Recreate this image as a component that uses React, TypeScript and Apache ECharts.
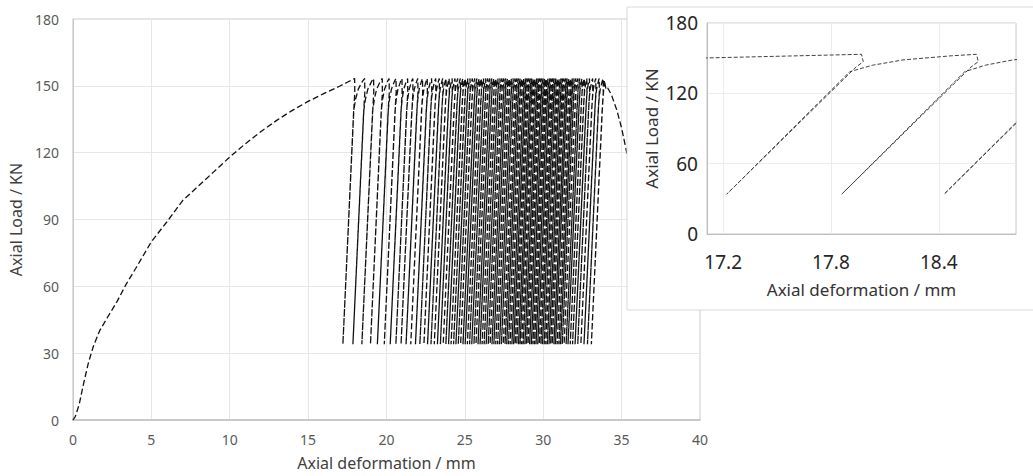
import React, { useEffect, useRef } from "react";
import * as echarts from "echarts";

// Monotonic (virgin) loading curve up to the first cycle
const envelopeX = [0, 0.15, 0.4, 0.7, 1.0, 1.3, 1.7, 2.2, 2.8, 3.4, 4.0, 5.0, 6.0, 7.0, 8.0, 9.0, 10.0, 11.0, 12.0, 13.0, 14.0, 15.0, 16.0, 17.0, 17.5];
const envelopeLoad = [0, 1.5, 7, 17, 26, 33, 40, 46, 53, 61, 68, 80, 89, 98.5, 105, 111.5, 118, 124, 129.5, 134.5, 139, 143, 146.5, 149.8, 151.6];

// Unloading valley positions (mm) of each cycle
const valleyX = [
  17.22, 17.86, 18.43, 18.98, 19.42, 19.86, 20.24, 20.6, 20.93, 21.25, 21.55, 21.85, 22.13, 22.39,
  22.62, 22.84, 23.05, 23.25, 23.44, 23.62, 23.79, 23.96, 24.12, 24.28, 24.43, 24.58, 24.73, 24.88,
  25.02, 25.16, 25.3, 25.44, 25.58, 25.71, 25.84, 25.97, 26.1, 26.23, 26.36, 26.49, 26.61, 26.73,
  26.85, 26.97, 27.09, 27.21, 27.33, 27.45, 27.56, 27.67, 27.78, 27.89, 28.0, 28.11, 28.21, 28.31,
  28.42, 28.52, 28.62, 28.72, 28.83, 28.93, 29.03, 29.13, 29.24, 29.34, 29.44, 29.54, 29.65, 29.75,
  29.85, 29.95, 30.06, 30.16, 30.26, 30.37, 30.47, 30.57, 30.68, 30.78, 30.89, 31.0, 31.1, 31.21,
  31.33, 31.46, 31.58, 31.72, 31.87, 32.03, 32.2, 32.4, 32.6, 32.82, 33.07,
];

// Cycle shape
const peakLoad = 153.3;
const valleyLoad = 34;
const unloadWidth = 0.75; // peak x minus valley x
const unloadCurl = [[0.01, 147], [-0.03, 142.5]]; // offsets from the peak
const reloadKnee = [-0.065, 138.5]; // offset from the cycle's own peak
const reloadBend = [[0.18, 144], [0.42, 148.5], [0.8, 152]]; // fraction of knee->next peak, load

// Post-peak softening after the last cycle
const tailX = [33.9, 34.0, 34.1, 34.35, 34.7, 35.0, 35.3, 35.7, 36.1];
const tailLoad = [152.5, 148.5, 149.2, 146, 139, 131, 121, 105, 90];

// Axis ticks
const mainXTicks = { min: 0, max: 40, interval: 5 };
const mainYTicks = { min: 0, max: 180, interval: 30 };
const insetXLabels = [17.2, 17.8, 18.4];
const insetXRange = [17.11, 18.83];
const insetYTicks = { min: 0, max: 180, interval: 60 };

function buildCurve(): number[][] {
  const pts: number[][] = [];
  envelopeX.forEach((x, i) => pts.push([x, envelopeLoad[i]]));
  for (let i = 0; i < valleyX.length; i++) {
    const v = valleyX[i];
    const P = v + unloadWidth;
    pts.push([P, peakLoad]);
    unloadCurl.forEach(([dx, y]) => pts.push([P + dx, y]));
    pts.push([v, valleyLoad]);
    const knee = P + reloadKnee[0];
    pts.push([knee, reloadKnee[1]]);
    if (i < valleyX.length - 1) {
      const Pn = valleyX[i + 1] + unloadWidth;
      const d = Pn - knee;
      reloadBend.forEach(([f, y]) => pts.push([knee + f * d, y]));
    }
  }
  tailX.forEach((x, i) => pts.push([x, tailLoad[i]]));
  return pts;
}

const FONT = "Noto Sans";

export default function App() {
  const ref = useRef<HTMLDivElement>(null);
  useEffect(() => {
    if (!ref.current) return;
    const chart = echarts.init(ref.current, undefined, { renderer: "svg" });
    const data = buildCurve();
    const option: any = {
      animation: false,
      backgroundColor: "#fff",
      textStyle: { fontFamily: FONT },
      grid: [
        { left: 69, right: 333, top: 19, bottom: 53, show: true, borderColor: "#c8c8c8", borderWidth: 1, z: 0 },
        { left: 707, right: 17, top: 23, bottom: 242, show: true, borderColor: "#c8c8c8", borderWidth: 1, z: 11 },
      ],
      graphic: [
        {
          type: "rect",
          z: 10,
          shape: { x: 627, y: 7, width: 420, height: 303 },
          style: { fill: "#fff", stroke: "#d9d9d9", lineWidth: 1 },
        },
      ],
      xAxis: [
        {
          type: "value",
          gridIndex: 0,
          ...mainXTicks,
          name: "Axial deformation / mm",
          nameLocation: "middle",
          nameGap: 35,
          nameTextStyle: { fontSize: 16, color: "#404040", fontFamily: FONT },
          axisLine: { show: true, lineStyle: { color: "#bfbfbf", width: 1.5 } },
          axisTick: { show: false },
          axisLabel: { fontSize: 14, color: "#595959", margin: 12, fontFamily: FONT },
          splitLine: { show: true, lineStyle: { color: "#e6e6e6", width: 1 } },
        },
        {
          type: "value",
          gridIndex: 1,
          z: 12,
          min: insetXRange[0],
          max: insetXRange[1],
          name: "Axial deformation / mm",
          nameLocation: "middle",
          nameGap: 47,
          nameTextStyle: { fontSize: 17, color: "#333", fontFamily: FONT },
          axisLine: { show: true, lineStyle: { color: "#bfbfbf", width: 1 } },
          axisTick: { show: false, customValues: insetXLabels },
          axisLabel: { fontSize: 19, color: "#262626", margin: 18, customValues: insetXLabels, fontFamily: FONT },
          splitLine: { show: true, lineStyle: { color: "#ececec", width: 1 } },
        },
      ],
      yAxis: [
        {
          type: "value",
          gridIndex: 0,
          ...mainYTicks,
          name: "Axial Load / KN",
          nameLocation: "middle",
          nameGap: 43,
          nameTextStyle: { fontSize: 16, color: "#404040", fontFamily: FONT },
          axisLine: { show: true, lineStyle: { color: "#c8c8c8", width: 1 } },
          axisTick: { show: false },
          axisLabel: { fontSize: 14, color: "#595959", margin: 14, fontFamily: FONT },
          splitLine: { show: true, lineStyle: { color: "#e6e6e6", width: 1 } },
        },
        {
          type: "value",
          gridIndex: 1,
          z: 12,
          ...insetYTicks,
          name: "Axial Load / KN",
          nameLocation: "middle",
          nameGap: 47,
          nameTextStyle: { fontSize: 17, color: "#333", fontFamily: FONT },
          axisLine: { show: true, lineStyle: { color: "#bfbfbf", width: 1 } },
          axisTick: { show: false },
          axisLabel: { fontSize: 19, color: "#262626", margin: 9, fontFamily: FONT },
          splitLine: { show: true, lineStyle: { color: "#ececec", width: 1 } },
        },
      ],
      series: [
        {
          type: "line",
          xAxisIndex: 0,
          yAxisIndex: 0,
          data,
          showSymbol: false,
          symbol: "none",
          z: 2,
          lineStyle: { color: "#111", width: 1.3, type: [6, 3] },
        },
        {
          type: "line",
          xAxisIndex: 1,
          yAxisIndex: 1,
          data,
          showSymbol: false,
          symbol: "none",
          z: 13,
          clip: true,
          lineStyle: { color: "#404040", width: 1, type: [4, 2] },
        },
      ],
    };
    chart.setOption(option);
    return () => chart.dispose();
  }, []);
  return (
    <div
      ref={ref}
      style={{ position: "fixed", left: 0, top: 0, width: 1033, height: 476, background: "#fff" }}
    />
  );
}
